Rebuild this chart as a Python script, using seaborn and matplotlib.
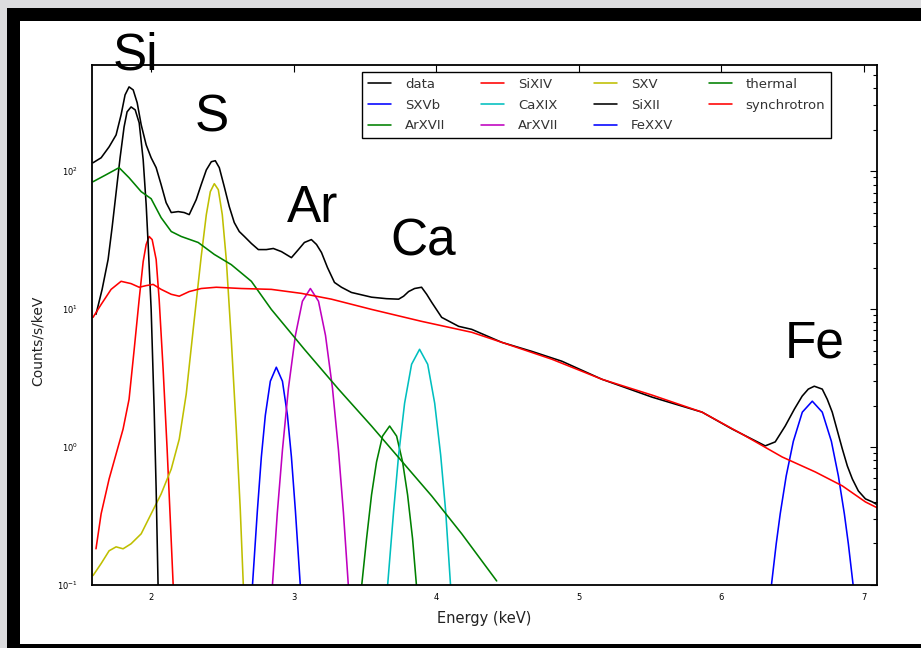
import matplotlib
matplotlib.use("Agg")
import matplotlib.pyplot as plt
from matplotlib.patches import Rectangle
from matplotlib.ticker import NullLocator, LogLocator
import seaborn as sns
import pandas as pd

# ---------------- data ----------------
data_E = [1.592, 1.649, 1.705, 1.754, 1.789, 1.817, 1.845, 1.874, 1.902, 1.930, 1.965, 2.000, 2.035, 2.070,
          2.105, 2.141, 2.190, 2.232, 2.267, 2.316, 2.351, 2.387, 2.422, 2.450, 2.478, 2.513, 2.548, 2.583,
          2.618, 2.654, 2.703, 2.752, 2.808, 2.857, 2.914, 2.984, 3.033, 3.075, 3.124, 3.160, 3.195, 3.237,
          3.286, 3.335, 3.405, 3.546, 3.651, 3.736, 3.771, 3.806, 3.848, 3.897, 3.933, 3.968, 4.038, 4.157,
          4.249, 4.460, 4.670, 4.881, 5.162, 5.514, 5.865, 6.076, 6.308, 6.378, 6.448, 6.512, 6.567, 6.610,
          6.652, 6.708, 6.743, 6.778, 6.814, 6.849, 6.884, 6.919, 6.961, 7.011, 7.060, 7.109]
data_C = [115, 125, 150, 183, 256, 357, 408, 388, 313, 217, 155, 125, 106, 79.8,
          59.1, 50.1, 50.9, 50.1, 48.4, 62.1, 79.8, 102, 117, 119, 106, 77.1, 55.3, 42.4,
          36.5, 33.6, 29.9, 27.0, 27.0, 27.5, 26.1, 23.6, 27.0, 30.4, 31.9, 29.4, 25.7, 20.0,
          15.6, 14.4, 13.2, 12.2, 11.9, 11.8, 12.4, 13.4, 14.1, 14.4, 12.8, 11.2, 8.71, 7.50,
          7.13, 5.74, 4.94, 4.19, 3.10, 2.30, 1.79, 1.35, 1.02, 1.09, 1.42, 1.88, 2.34, 2.63,
          2.76, 2.63, 2.22, 1.79, 1.31, 0.967, 0.729, 0.587, 0.481, 0.421, 0.400, 0.374]

sync_E = [1.592, 1.649, 1.719, 1.789, 1.859, 1.916, 1.965, 2.014, 2.070, 2.141, 2.197, 2.267, 2.351, 2.457,
          2.632, 2.843, 3.054, 3.265, 3.546, 3.897, 4.249, 4.460, 4.811, 5.162, 5.514, 5.865, 6.146, 6.427,
          6.659, 6.849, 7.011, 7.109]
sync_C = [8.71, 10.8, 13.9, 15.9, 15.3, 14.4, 14.8, 15.1, 13.9, 12.8, 12.4, 13.4, 14.1, 14.4,
          14.1, 13.9, 13.0, 11.8, 9.95, 8.15, 6.79, 5.74, 4.33, 3.10, 2.38, 1.79, 1.24, 0.847,
          0.660, 0.523, 0.400, 0.356]

th_E = [1.592, 1.684, 1.775, 1.845, 1.930, 2.000, 2.070, 2.141, 2.211, 2.330, 2.443, 2.562, 2.703, 2.843,
        3.075, 3.314, 3.546, 3.757, 3.968, 4.179, 4.424]
th_C = [83.8, 94.2, 106, 89.6, 71.0, 63.1, 46.0, 36.5, 33.6, 30.4, 24.9, 21.0, 15.9, 9.95,
        5.11, 2.63, 1.42, 0.792, 0.442, 0.235, 0.107]

six2_E = [1.613, 1.656, 1.698, 1.726, 1.754, 1.782, 1.810, 1.831, 1.859, 1.888, 1.916, 1.944, 1.965, 1.979,
          2.000, 2.021, 2.035, 2.049]
six2_C = [9.16, 13.9, 22.9, 39.0, 69.8, 125, 209, 269, 292, 278, 224, 121, 57.2, 29.4,
          9.95, 1.88, 0.497, 0.094]

six4_E = [1.613, 1.649, 1.705, 1.754, 1.803, 1.845, 1.881, 1.916, 1.944, 1.965, 1.986, 2.007, 2.035, 2.056,
          2.084, 2.112, 2.134, 2.155]
six4_C = [0.183, 0.328, 0.587, 0.890, 1.35, 2.22, 5.11, 11.8, 22.1, 29.4, 33.6, 31.9, 22.9, 11.8,
          3.66, 0.967, 0.302, 0.097]

sxv_E = [1.592, 1.649, 1.705, 1.754, 1.803, 1.859, 1.930, 2.000, 2.070, 2.141, 2.197, 2.246, 2.295, 2.351,
         2.387, 2.415, 2.443, 2.471, 2.499, 2.527, 2.562, 2.597, 2.625, 2.647]
sxv_C = [0.117, 0.143, 0.177, 0.189, 0.183, 0.199, 0.235, 0.328, 0.457, 0.693, 1.14, 2.42, 7.13, 24.0,
         48.4, 71.0, 81.1, 73.4, 48.4, 22.9, 6.04, 1.35, 0.356, 0.097]

sxvb_E = [2.710, 2.745, 2.773, 2.801, 2.836, 2.878, 2.921, 2.956, 2.984, 3.012, 3.047]
sxvb_C = [0.097, 0.344, 0.847, 1.70, 3.00, 3.79, 3.00, 1.70, 0.847, 0.344, 0.097]

arm_E = [2.850, 2.885, 2.921, 2.963, 3.012, 3.061, 3.117, 3.174, 3.223, 3.272, 3.314, 3.349, 3.384]
arm_C = [0.097, 0.333, 0.951, 2.67, 6.45, 11.4, 14.1, 11.4, 6.45, 2.67, 0.951, 0.333, 0.097]

arg_E = [3.476, 3.511, 3.546, 3.581, 3.623, 3.673, 3.722, 3.764, 3.799, 3.834, 3.862]
arg_C = [0.097, 0.216, 0.450, 0.779, 1.20, 1.42, 1.20, 0.779, 0.450, 0.216, 0.097]

ca_E = [3.658, 3.701, 3.736, 3.778, 3.827, 3.883, 3.940, 3.989, 4.031, 4.066, 4.101]
ca_C = [0.097, 0.344, 0.875, 2.08, 3.98, 5.11, 3.98, 2.08, 0.875, 0.344, 0.097]

fe_E = [6.350, 6.385, 6.413, 6.455, 6.505, 6.568, 6.638, 6.708, 6.772, 6.821, 6.863, 6.891, 6.926]
fe_C = [0.097, 0.199, 0.328, 0.617, 1.10, 1.79, 2.15, 1.79, 1.10, 0.617, 0.328, 0.199, 0.097]

element_labels = ["Si", "S", "Ar", "Ca", "Fe"]

# legend order (column-major, 4 columns)
series = [
    ("data", data_E, data_C, "k"),
    ("SXVb", sxvb_E, sxvb_C, "b"),
    ("ArXVII", arg_E, arg_C, "g"),
    ("SiXIV", six4_E, six4_C, "r"),
    ("CaXIX", ca_E, ca_C, "c"),
    ("ArXVII", arm_E, arm_C, "m"),
    ("SXV", sxv_E, sxv_C, "y"),
    ("SiXII", six2_E, six2_C, "k"),
    ("FeXXV", fe_E, fe_C, "b"),
    ("thermal", th_E, th_C, "g"),
    ("synchrotron", sync_E, sync_C, "r"),
]
classic = {"k": (0, 0, 0), "b": (0, 0, 1), "g": (0, 0.5, 0), "r": (1, 0, 0),
           "c": (0, 0.75, 0.75), "m": (0.75, 0, 0.75), "y": (0.75, 0.75, 0)}

# ---------------- figure ----------------
sns.set_theme(style="white")
plt.rcParams["font.family"] = ["DejaVu Sans"]
plt.rcParams["mathtext.fontset"] = "dejavusans"

W, H = 921, 648
fig = plt.figure(figsize=(W / 100, H / 100), dpi=100)
fig.patch.set_facecolor("#dcdcde")

def prect(x0, y0, x1, y1, color):
    # pixel coordinates measured from top-left
    fig.add_artist(Rectangle((x0 / W, 1 - y1 / H), (x1 - x0) / W, (y1 - y0) / H,
                             transform=fig.transFigure, facecolor=color, edgecolor="none", zorder=-10))

prect(6.5, 8, W, H, "black")
prect(20, 21, W, 644, "white")

ax = fig.add_axes([92 / W, 1 - 585 / H, (877 - 92) / W, (585 - 65) / H])
ax.set_facecolor("white")

for name, E, C, col in series:
    df = pd.DataFrame({"E": E, "C": C})
    sns.lineplot(data=df, x="E", y="C", ax=ax, color=classic[col], lw=1.15,
                 estimator=None, sort=False, label=name, legend=False)
handles = ax.get_lines()

ax.set_yscale("log")
ax.set_xlim(1.585, 7.092)
ax.set_ylim(0.1, 588)
ax.set_xticks([2, 3, 4, 5, 6, 7])
ax.xaxis.set_minor_locator(NullLocator())
ax.yaxis.set_minor_locator(LogLocator(base=10, subs=range(2, 10)))
ax.tick_params(which="both", direction="in", top=True, right=True, colors="black",
               labelsize=6, width=0.8)
ax.tick_params(which="major", length=5)
ax.tick_params(axis="x", which="major", pad=6)
ax.tick_params(axis="y", which="major", pad=10)
ax.tick_params(which="minor", length=3)
for s in ax.spines.values():
    s.set_color("black")
    s.set_linewidth(1.3)

ax.set_xlabel("Energy (keV)", fontsize=10.5, labelpad=6, color="#222222")
ax.set_ylabel("Counts/s/keV", fontsize=10, color="#222222")
ax.yaxis.set_label_coords((45 - 92) / 785, (585 - 341) / 520)

leg = ax.legend(handles=handles, labels=[s[0] for s in series], ncol=4,
                loc="upper left", bbox_to_anchor=(362 / W, 1 - 72 / H),
                bbox_transform=fig.transFigure, borderaxespad=0, frameon=True,
                fancybox=False, framealpha=1, edgecolor="black", fontsize=9.5,
                handlelength=1.75, handletextpad=1.05, columnspacing=2.7,
                labelspacing=0.58, borderpad=0.45)
leg.get_frame().set_linewidth(1.0)
for t in leg.get_texts():
    t.set_color("#333333")

pos = [(135, 70), (212, 132), (313, 222), (423, 255), (815, 358)]
for lab, (px, py) in zip(element_labels, pos):
    fig.text(px / W, 1 - py / H, lab, fontsize=37, family=["Liberation Sans"],
             ha="center", va="baseline", color="black")

fig.savefig("out.png", dpi=100, facecolor=fig.get_facecolor())
